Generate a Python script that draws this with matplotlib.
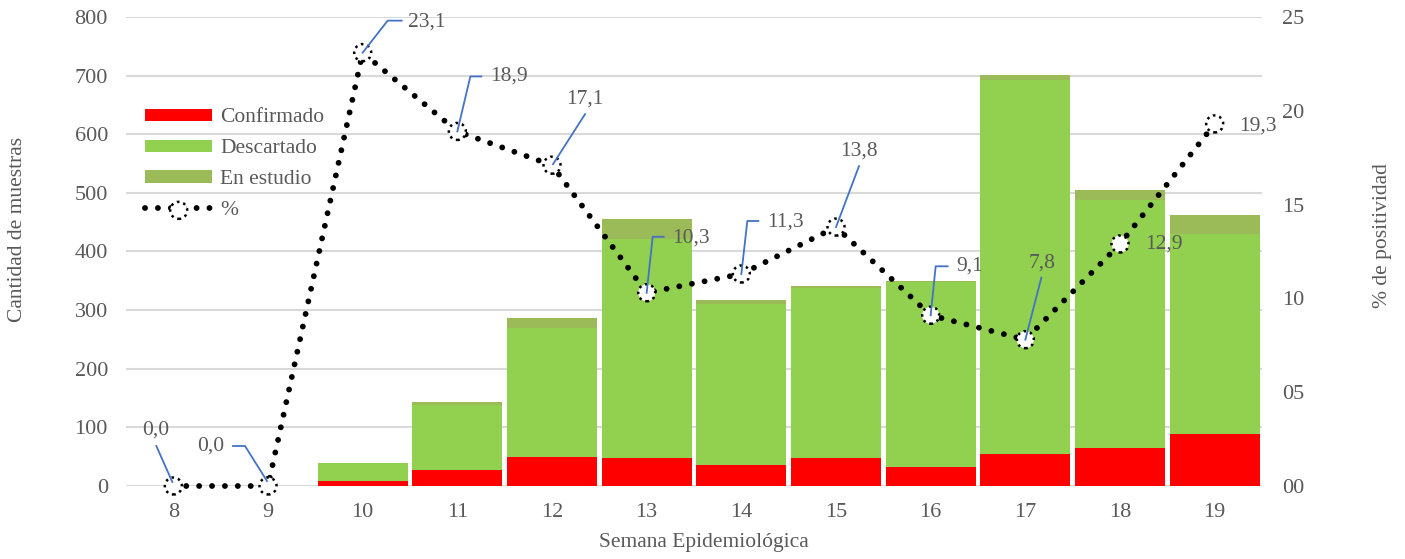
import numpy as np
import matplotlib
matplotlib.use('Agg')
import matplotlib.pyplot as plt
import matplotlib.transforms as mtransforms
from matplotlib.lines import Line2D
from matplotlib.ticker import FuncFormatter

plt.rcParams['font.family'] = ['Liberation Serif', 'DejaVu Serif']

# Data
weeks = ['8', '9', '10', '11', '12', '13', '14', '15', '16', '17', '18', '19']
confirmado = [0, 0, 9, 27, 49, 47, 36, 47, 32, 55, 65, 89]
descartado = [0, 0, 30, 111, 220, 374, 274, 290, 316, 638, 423, 341]
en_estudio = [0, 0, 0, 5, 17, 34, 8, 4, 2, 8, 17, 32]
positividad = [0.0, 0.0, 23.1, 18.9, 17.1, 10.3, 11.3, 13.8, 9.1, 7.8, 12.9, 19.3]

# label placement: text offset (px), text alignment, leader vertices (px) relative to marker
label_text_pos = [(-18, 56, 'center'), (-57, 40, 'center'), (45, 31, 'left'), (33, 55, 'left'),
                  (33, 66, 'center'), (26, 55, 'left'), (26, 52, 'left'), (23, 76, 'center'),
                  (26, 49, 'left'), (17, 77, 'center'), (25, 0, 'left'), (25, -2, 'left')]
leaders = [[(-1, 4), (-17, 40)], [(-1, 5), (-23, 40), (-35, 40)], [(0, 0), (25, 32), (39, 32)],
           [(0, 0), (13, 55), (24, 55)], [(1, 1), (33, 51)], [(0, 0), (6, 56), (17, 56)],
           [(0, 0), (6, 53), (17, 53)], [(0, 0), (23, 61)], [(0, 0), (5, 49), (17, 49)],
           [(0, 0), (16, 62)], None, None]

grey = '#595959'
c_conf = '#FF0000'
c_desc = '#92D050'
c_est = '#9BBB59'
c_lead = '#4472C4'
fs = 15.5

fig = plt.figure(figsize=(14.05, 5.59), dpi=100)
ax = fig.add_axes([126 / 1405, 1 - 486 / 559, 1136 / 1405, 469 / 559])
ax2 = ax.twinx()

x = np.arange(len(weeks))
conf = np.array(confirmado)
desc = np.array(descartado)
est = np.array(en_estudio)

w = 0.95
ax.bar(x, conf, w, color=c_conf, label='Confirmado', zorder=2)
ax.bar(x, desc, w, bottom=conf, color=c_desc, label='Descartado', zorder=2)
ax.bar(x, est, w, bottom=conf + desc, color=c_est, label='En estudio', zorder=2)

ax.set_xlim(-0.5, len(weeks) - 0.5)
ax.set_ylim(0, 800)
ax.set_yticks(np.arange(0, 801, 100))
ax.set_xticks(x)
ax.set_xticklabels(weeks)
ax.grid(axis='y', color='#D9D9D9', linewidth=1.5, zorder=0)
ax.set_axisbelow(True)
for s in ax.spines.values():
    s.set_visible(False)
for s in ax2.spines.values():
    s.set_visible(False)
ax.tick_params(axis='both', length=0, labelsize=16, labelcolor=grey)
ax.tick_params(axis='y', pad=13)
ax.tick_params(axis='x', pad=12)

ax2.set_ylim(0, 25)
ax2.set_yticks(np.arange(0, 26, 5))
ax2.yaxis.set_major_formatter(FuncFormatter(lambda v, p: f'{int(v):02d}'))
ax2.tick_params(axis='y', length=0, labelsize=16, labelcolor=grey, pad=14.5)

line, = ax2.plot(x, positividad, color='black', linewidth=4.2,
                 linestyle=(0, (0.01, 2.2)), dash_capstyle='round', zorder=3, clip_on=False)
sc = ax2.scatter(x, positividad, s=150, facecolors='white', edgecolors='black',
                 linewidths=1.8, linestyles=(0, (1, 1.6)), zorder=4, clip_on=False)

for i, v in enumerate(positividad):
    tx, ty, ha = label_text_pos[i]
    ax2.annotate(f'{v:.1f}'.replace('.', ','), xy=(x[i], v), xytext=(tx, ty),
                 textcoords='offset pixels', ha=ha, va='center', fontsize=fs, color=grey, zorder=5)
    if leaders[i] is not None:
        pts = np.array(leaders[i], dtype=float)
        tr = mtransforms.Affine2D() + mtransforms.ScaledTranslation(x[i], v, ax2.transData)
        ln = Line2D(pts[:, 0], pts[:, 1], color=c_lead, linewidth=1.3, transform=tr, clip_on=False, zorder=5)
        ax2.add_artist(ln)

handles, labels = ax.get_legend_handles_labels()
handles.append((line, sc))
labels.append('%')
leg = ax2.legend(handles, labels, loc='upper left', bbox_to_anchor=(0.017, 0.805), frameon=False,
                 fontsize=fs, handlelength=3.1, handleheight=0.5, handletextpad=0.37,
                 labelspacing=0.55, borderpad=0, borderaxespad=0)
for t in leg.get_texts():
    t.set_color(grey)

fig.text(704 / 1405, 1 - 543 / 559, 'Semana Epidemiológica', ha='center', va='center', fontsize=fs, color=grey)
fig.text(18 / 1405, 1 - 229 / 559, 'Cantidad de muestras', ha='center', va='center', rotation=90,
         fontsize=fs, color=grey)
fig.text(1383 / 1405, 1 - 236 / 559, '% de positividad', ha='center', va='center', rotation=90,
         fontsize=fs, color=grey)

fig.savefig('out.png', dpi=100)
